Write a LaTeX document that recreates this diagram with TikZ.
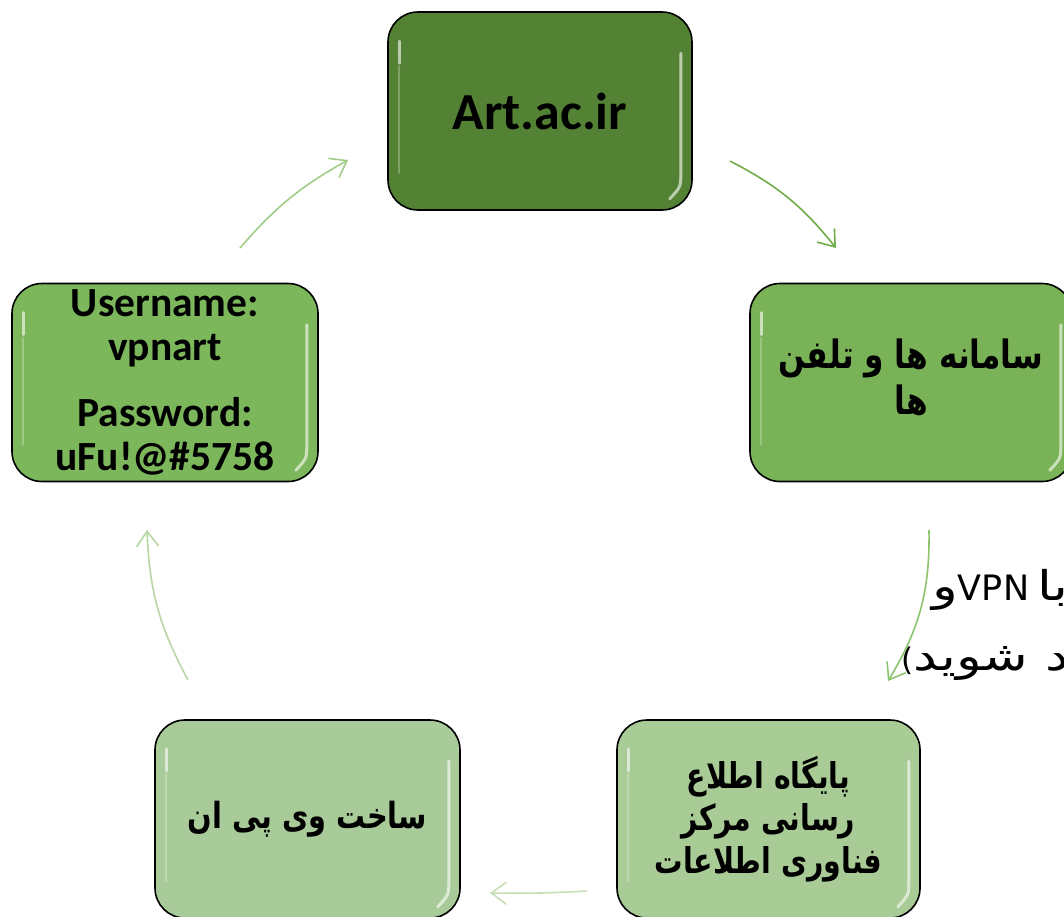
\documentclass[tikz,border=0pt]{standalone}
\usepackage{fontspec}
\usetikzlibrary{arrows.meta,calc}
\setmainfont{Carlito}
\newfontfamily\arabicnote[Script=Arabic,FakeStretch=1.3]{DejaVu Sans}
\newfontfamily\arabicbox[Script=Arabic,FakeStretch=0.8]{DejaVu Sans}
\newfontfamily\latinfont{DejaVu Sans}
\TeXXeTstate=1
\definecolor{cArt}{RGB}{84,130,53}
\definecolor{cSys}{RGB}{122,179,87}
\definecolor{cUser}{RGB}{125,183,92}
\definecolor{cIT}{RGB}{169,204,150}
\definecolor{cVPN}{RGB}{169,203,153}
\definecolor{aOne}{RGB}{160,205,135}
\definecolor{aTwo}{RGB}{112,173,71}
\definecolor{aThree}{RGB}{140,196,110}
\definecolor{aFour}{RGB}{197,224,180}
\definecolor{aFive}{RGB}{183,215,165}
\tikzset{
  gbox/.style={draw=black, line width=1.6pt, rounded corners=30pt,
    minimum width=304pt, minimum height=198pt, inner sep=0pt,
    align=center, text=black},
  hl/.style={white, line width=3pt, line cap=round, opacity=0.6},
  hlfaint/.style={white, line width=2.5pt, line cap=round, opacity=0.25},
  conn/.style={line width=1.6pt,
    -{Straight Barb[length=15pt,width=22pt,line width=1.6pt]}},
  arfont/.style 2 args={font=\arabicbox\bfseries\fontsize{#1}{#2}\selectfont},
  notefont/.style={font=\arabicnote\fontsize{41}{46}\selectfont},
}
\newcommand\glossbox[1]{%
  \draw[hl] ([xshift=12pt,yshift=-30pt]#1.north west) -- ([xshift=12pt,yshift=-52pt]#1.north west);
  \draw[hlfaint] ([xshift=12pt,yshift=-55pt]#1.north west) -- ([xshift=12pt,yshift=38pt]#1.south west);
  \draw[hl] ([xshift=-12pt,yshift=-42pt]#1.north east) -- ([xshift=-12pt,yshift=38pt]#1.south east)
     .. controls ([xshift=-12pt,yshift=24pt]#1.south east) .. ([xshift=-23pt,yshift=12pt]#1.south east);
}
\newcommand\up[1]{\raisebox{5pt}[\height][\depth]{#1}}
\begin{document}
\begin{tikzpicture}[x=1pt,y=-1pt]
\useasboundingbox (0,0) rectangle (1064,916);
\fill[white] (0,0) rectangle (1064,916);
\clip (0,0) rectangle (1064,916);

% boxes
\node[gbox, fill=cArt] (art) at (540,111)
  {\fontsize{52}{60}\selectfont\bfseries Art.ac.ir};
\glossbox{art}

\node[gbox, fill=cSys, minimum width=322pt, arfont={39}{46}] (sys) at (911,382.5)
  {\up{\beginR سامانه ها و تلفن\endR}\\ \up{\beginR ها\endR}};
\glossbox{sys}

\node[gbox, fill=cIT, minimum width=303pt, arfont={35.5}{42.5}] (it) at (768.5,819)
  {\beginR پایگاه اطلاع\endR\\ \beginR رسانی مرکز\endR\\ \beginR فناوری اطلاعات\endR};
\glossbox{it}

\node[gbox, fill=cVPN, minimum width=305pt, arfont={36}{40}] (vpn) at (307.5,819)
  {\beginR ساخت وی پی ان\endR};
\glossbox{vpn}

\node[gbox, fill=cUser, minimum width=306pt,
      font=\fontsize{41.5}{44}\selectfont\bfseries] (user) at (165,382.5)
  {Username:\\ vpnart\\[22pt] Password:\\ uFu!@\#5758};
\glossbox{user}

% side note (cut at the right edge)
\node[anchor=base west, inner sep=0pt, notefont] (note1) at (932,600)
  {\beginR با\hspace{8pt}\beginL{\latinfont\fontsize{35}{40}\selectfont VPN}\endL{}و\endR};
\node[anchor=base west, inner sep=0pt, notefont] (note2) at (901,670)
  {\beginR حود شوید\beginL{\latinfont\fontsize{31}{36}\selectfont(}\endL\endR};

% connector end points
\coordinate (u1) at (240,248);
\coordinate (u2) at (348,160);
\coordinate (a1) at (730,161);
\coordinate (a2) at (836,248);
\coordinate (s1) at (929,530);
\coordinate (s2) at (888,681);
\coordinate (i1) at (587,891);
\coordinate (i2) at (490,893);
\coordinate (v1) at (188,680);
\coordinate (v2) at (147,530);

\draw[conn, aOne] (u1) to[bend left=10] (u2);
\draw[conn, aTwo] (a1) to[bend left=12] (a2);
\draw[conn, aThree] (s1) to[bend left=16] (s2);
\draw[conn, aFour] (i1) to[bend left=2] (i2);
\draw[conn, aFive] (v1) to[bend left=13] (v2);
\end{tikzpicture}
\end{document}
